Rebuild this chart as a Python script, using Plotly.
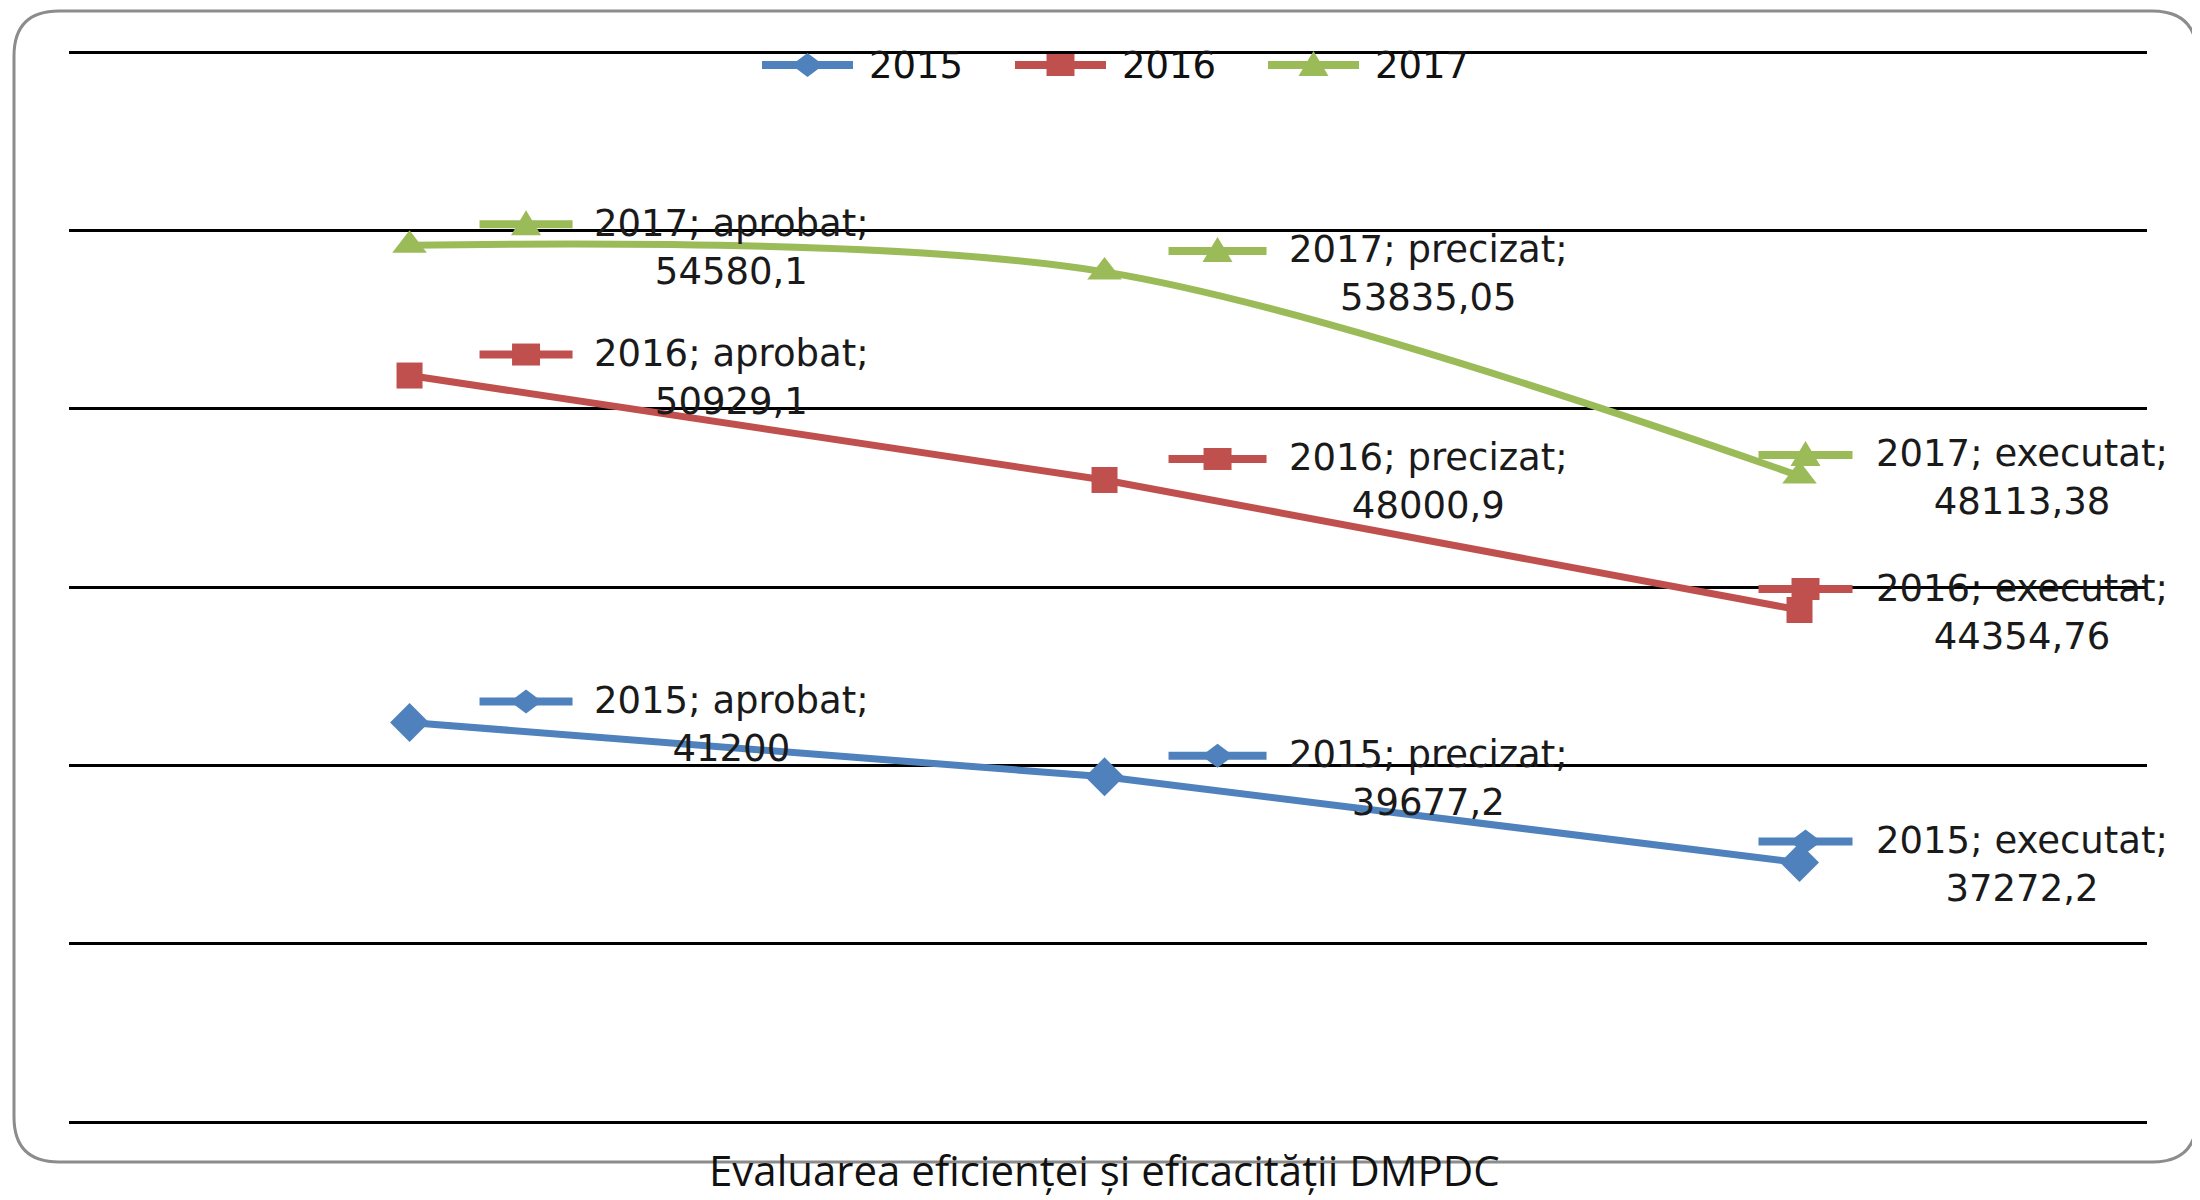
import plotly.graph_objects as go

# ---- data ----
categories = ["aprobat", "precizat", "executat"]
series_names = ["2015", "2016", "2017"]
values_2015 = [41200, 39677.2, 37272.2]
values_2016 = [50929.1, 48000.9, 44354.76]
values_2017 = [54580.1, 53835.05, 48113.38]
caption = "Evaluarea eficienței și eficacității DMPDC"

series_values = [values_2015, values_2016, values_2017]
colors = ["#4F81BD", "#C0504D", "#9BBB59"]
symbols = ["diamond", "square", "triangle-up"]
msizes = [30, 26, 30]
shapes_line = ["linear", "linear", "spline"]

# page offset (body margin of the html page)
OFF = 8
W, H = 2200 - OFF, 1200 - OFF
ML, MR, MT, MB = 61, 53, 42, 76
PW, PH = W - ML - MR, H - MT - MB
PAD_UNITS = 2 / (1070 / 30000)

def px(xpage):
    return (xpage - OFF - ML) / PW

def py(ypage):
    return (H - MB - (ypage - OFF)) / PH

FONT = "DejaVu Sans"
FS = 37
LW = 7

fig = go.Figure()
for name, vals, c, s, ms, lshape in zip(series_names, series_values, colors, symbols, msizes, shapes_line):
    fig.add_trace(go.Scatter(
        x=categories, y=vals, name=name, mode="lines+markers",
        line=dict(color=c, width=LW, shape=lshape, smoothing=0.9),
        marker=dict(symbol=s, size=ms, color=c),
        hoverinfo="skip", showlegend=False,
    ))

def fmt(v):
    s = str(v)
    if s.endswith(".0"):
        s = s[:-2]
    return s.replace(".", ",")

text_dx = [182, 182, 74]
key_rng = [(66, 167), (60, 166), (-45, 57)]
KEY_DY = 21

shapes = []
annotations = []

def key_shapes(xref, yref, xa, ya, k0, k1, dy, sym, color):
    out = [dict(type="line", xref=xref, yref=yref, xsizemode="pixel", ysizemode="pixel",
                xanchor=xa, yanchor=ya, x0=k0 + 4, x1=k1 - 4, y0=dy, y1=dy,
                line=dict(color=color, width=LW + 1), layer="above")]
    cx, cy = (k0 + k1) / 2, dy
    if sym == "square":
        out.append(dict(type="rect", xref=xref, yref=yref, xsizemode="pixel", ysizemode="pixel",
                        xanchor=xa, yanchor=ya, x0=cx - 14, x1=cx + 14, y0=cy - 11, y1=cy + 11,
                        fillcolor=color, line=dict(width=0), layer="above"))
    else:
        if sym == "diamond":
            path = f"M{cx},{cy+12} L{cx+16},{cy} L{cx},{cy-12} L{cx-16},{cy} Z"
        else:
            path = f"M{cx},{cy+14} L{cx+15},{cy-11} L{cx-15},{cy-11} Z"
        out.append(dict(type="path", xref=xref, yref=yref, xsizemode="pixel", ysizemode="pixel",
                        xanchor=xa, yanchor=ya, path=path,
                        fillcolor=color, line=dict(width=0), layer="above"))
    return out

# data labels with legend keys
for name, vals, c, s in zip(series_names, series_values, colors, symbols):
    for ci, (cat, v) in enumerate(zip(categories, vals)):
        k0, k1 = key_rng[ci]
        shapes += key_shapes("x", "y", ci, v, k0, k1, KEY_DY, s, c)
        annotations.append(dict(
            x=cat, y=v, xref="x", yref="y", xanchor="left", yanchor="middle",
            xshift=text_dx[ci], yshift=-2, showarrow=False, align="center",
            text=f"{name}; {cat};<br>{fmt(v)}",
            font=dict(family=FONT, size=FS, color="#1a1a1a"),
        ))

# legend (drawn manually so the keys match the reference's long keys)
LEG_X0, LEG_PITCH, LEG_KEY, LEG_GAP, LEG_Y = 758, 253, 99, 10, 65
for i, (name, c, s) in enumerate(zip(series_names, colors, symbols)):
    kx = LEG_X0 + i * LEG_PITCH
    shapes += key_shapes("paper", "paper", px(kx), py(LEG_Y), 0, LEG_KEY, 0, s, c)
    annotations.append(dict(
        x=px(kx + LEG_KEY + LEG_GAP), y=py(LEG_Y), xref="paper", yref="paper",
        xanchor="left", yanchor="middle", showarrow=False, text=name,
        font=dict(family=FONT, size=FS, color="#111111"),
    ))

# rounded frame
x0, y0, x1, y1, r = 14, 11, 2197, 1162, 45
path = (
    f"M{px(x0+r)},{py(y0)} L{px(x1-r)},{py(y0)} Q{px(x1)},{py(y0)} {px(x1)},{py(y0+r)} "
    f"L{px(x1)},{py(y1-r)} Q{px(x1)},{py(y1)} {px(x1-r)},{py(y1)} "
    f"L{px(x0+r)},{py(y1)} Q{px(x0)},{py(y1)} {px(x0)},{py(y1-r)} "
    f"L{px(x0)},{py(y0+r)} Q{px(x0)},{py(y0)} {px(x0+r)},{py(y0)} Z"
)
shapes.append(dict(type="path", xref="paper", yref="paper", path=path,
                   line=dict(color="#8c8c8c", width=3), layer="below"))

annotations.append(dict(
    x=px(1104), y=py(1200), xref="paper", yref="paper", xanchor="center", yanchor="bottom",
    showarrow=False, text=caption, font=dict(family="Open Sans", size=42, color="#111111"),
))

fig.update_layout(
    width=W, height=H,
    margin=dict(l=ML, r=MR, t=MT, b=MB),
    paper_bgcolor="white", plot_bgcolor="white",
    showlegend=False,
    xaxis=dict(type="category", range=[-0.49, 2.5], showticklabels=False, showgrid=False,
               zeroline=False, showline=False, ticks=""),
    yaxis=dict(range=[30000 - PAD_UNITS, 60000 + PAD_UNITS], tick0=30000, dtick=5000,
               showticklabels=False, showgrid=True,
               gridcolor="#000000", gridwidth=3, zeroline=False, showline=False, ticks=""),
    shapes=shapes,
    annotations=annotations,
)

fig.write_html("out.html")
